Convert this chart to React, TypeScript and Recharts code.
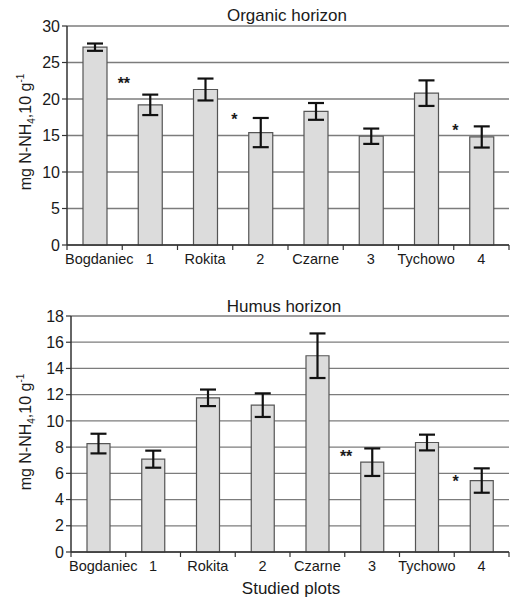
import React from 'react';
import { ComposedChart, Bar, ErrorBar, XAxis, YAxis, CartesianGrid, Scatter } from 'recharts';

const categories = ['Bogdaniec', '1', 'Rokita', '2', 'Czarne', '3', 'Tychowo', '4'];

const organicMeans = [27.1, 19.2, 21.3, 15.4, 18.3, 14.9, 20.8, 14.8];
const organicErrors = [0.5, 1.4, 1.5, 2.0, 1.15, 1.05, 1.75, 1.45];
const organicMarks = ['', '**', '', '*', '', '', '', '*'];
const organicMarkY = [null, 22.5, null, 17.6, null, null, null, 16.0];
const organicTicks = [0, 5, 10, 15, 20, 25, 30];

const humusMeans = [8.27, 7.08, 11.76, 11.2, 14.97, 6.85, 8.35, 5.45];
const humusErrors = [0.75, 0.65, 0.63, 0.9, 1.7, 1.05, 0.6, 0.93];
const humusMarks = ['', '', '', '', '', '**', '', '*'];
const humusMarkY = [null, null, null, null, null, 7.5, null, 5.6];
const humusTicks = [0, 2, 4, 6, 8, 10, 12, 14, 16, 18];

const organicData = categories.map((c, i) => ({
  name: c,
  mean: organicMeans[i],
  err: organicErrors[i],
  mark: organicMarks[i],
  markY: organicMarkY[i],
}));

const humusData = categories.map((c, i) => ({
  name: c,
  mean: humusMeans[i],
  err: humusErrors[i],
  mark: humusMarks[i],
  markY: humusMarkY[i],
}));

const FONT = '"Liberation Sans", Arial, sans-serif';
const TEXT = '#1a1a1a';
const AXIS = '#333';

const XTick = (props: any) => {
  const { x, y, payload, index } = props;
  const off = payload && payload.offset ? payload.offset : 27.5;
  const last = index === categories.length - 1;
  const first = index === 0;
  return (
    <g>
      <line x1={x - off} x2={x - off} y1={y} y2={y + 5} stroke={AXIS} strokeWidth={1.2} />
      {last && <line x1={x + off} x2={x + off} y1={y} y2={y + 5} stroke={AXIS} strokeWidth={1.2} />}
      <text
        x={first ? x - off - 2 : x}
        y={y + 19}
        textAnchor={first ? 'start' : 'middle'}
        fontSize={14.5}
        fontFamily={FONT}
        fill={TEXT}
      >
        {payload.value}
      </text>
    </g>
  );
};

const MarkShape = (props: any) => {
  const { cx, cy, payload } = props;
  if (!payload || !payload.mark || cy == null || isNaN(cy)) return null;
  return (
    <text x={cx - 26} y={cy + 8} textAnchor="middle" fontSize={16} fontWeight="bold" fontFamily={FONT} fill={TEXT}>
      {payload.mark}
    </text>
  );
};

const Panel = ({ data, ticks, max, yWidth, height, barSize }: any) => (
  <ComposedChart width={510} height={height} data={data} margin={{ top: 26, right: 1, bottom: 0, left: 0 }}>
    <CartesianGrid vertical={false} stroke="#7c7c7c" strokeWidth={1.3} />
    <XAxis
      dataKey="name"
      interval={0}
      height={25}
      tickLine={false}
      tickSize={0}
      tickMargin={0}
      axisLine={{ stroke: AXIS, strokeWidth: 1.5 }}
      tick={<XTick />}
    />
    <YAxis
      domain={[0, max]}
      ticks={ticks}
      interval={0}
      width={yWidth}
      tickSize={5}
      tickMargin={2}
      axisLine={{ stroke: AXIS, strokeWidth: 1.5 }}
      tickLine={{ stroke: AXIS, strokeWidth: 1.2 }}
      tick={{ fontSize: 16, fontFamily: FONT, fill: TEXT }}
    />
    <Bar dataKey="mean" fill="#dcdcdc" stroke="#555" strokeWidth={1.2} barSize={barSize} isAnimationActive={false}>
      <ErrorBar dataKey="err" width={8} strokeWidth={2.2} stroke="#111" isAnimationActive={false} />
    </Bar>
    <Scatter dataKey="markY" shape={<MarkShape />} isAnimationActive={false} />
  </ComposedChart>
);

export default function App() {
  return (
    <div style={{ position: 'absolute', left: 0, top: 0, width: 510, height: 598, background: '#fff', overflow: 'hidden' }}>
      <div style={{ position: 'absolute', left: 0, top: 0 }}>
        <Panel data={organicData} ticks={organicTicks} max={30} yWidth={67} height={270} barSize={24} />
      </div>
      <div style={{ position: 'absolute', left: 0, top: 290 }}>
        <Panel data={humusData} ticks={humusTicks} max={18} yWidth={71} height={287} barSize={23} />
      </div>
      <svg width={510} height={598} style={{ position: 'absolute', left: 0, top: 0, pointerEvents: 'none' }}>
        <text x={287} y={21} textAnchor="middle" fontSize={17} fontFamily={FONT} fill={TEXT}>Organic horizon</text>
        <text x={284} y={312} textAnchor="middle" fontSize={17} fontFamily={FONT} fill={TEXT}>Humus horizon</text>
        <text x={291} y={594} textAnchor="middle" fontSize={17} fontFamily={FONT} fill={TEXT}>Studied plots</text>
        <text transform="translate(31,132) rotate(-90)" textAnchor="middle" fontSize={16} fontFamily={FONT} fill={TEXT}>
          mg N-NH<tspan dy={4} fontSize={10}>4</tspan><tspan dy={-4}>,10 g</tspan><tspan dy={-7} fontSize={10}>-1</tspan>
        </text>
        <text transform="translate(31,432) rotate(-90)" textAnchor="middle" fontSize={16} fontFamily={FONT} fill={TEXT}>
          mg N-NH<tspan dy={4} fontSize={10}>4</tspan><tspan dy={-4}>,10 g</tspan><tspan dy={-7} fontSize={10}>-1</tspan>
        </text>
      </svg>
    </div>
  );
}
